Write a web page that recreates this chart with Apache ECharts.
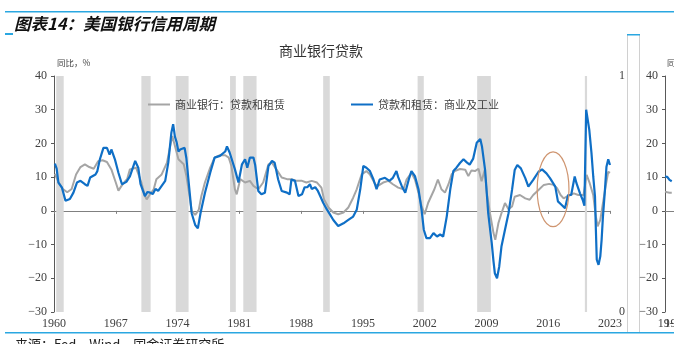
<!DOCTYPE html>
<html>
<head>
<meta charset="utf-8">
<script src="https://cdn.jsdelivr.net/npm/echarts@6/dist/echarts.min.js"></script>
<style>
  html, body { margin: 0; padding: 0; background: #fff; }
  #main { width: 674px; height: 344px; }
</style>
</head>
<body>
<div id="main"></div>
<script>
// Commercial bank loans and leases, YoY % ([year, value])
const bankLoans = [
  [1960.1, 11.0], [1960.5, 8.5], [1961.0, 6.5], [1961.5, 5.5], [1962.0, 6.5], [1962.5, 10.8],
  [1963.0, 13.0], [1963.5, 13.8], [1964.0, 13.0], [1964.5, 12.5], [1965.0, 14.7], [1965.5, 15.0],
  [1966.0, 14.5], [1966.5, 12.3], [1967.0, 8.4], [1967.3, 6.0], [1967.8, 8.0], [1968.3, 9.5],
  [1968.6, 12.3], [1969.3, 12.8], [1969.9, 8.4], [1970.3, 4.4], [1970.5, 3.4], [1970.9, 5.0],
  [1971.3, 6.4], [1971.6, 9.4], [1972.2, 10.8], [1972.8, 14.3], [1973.1, 18.3], [1973.4, 22.2],
  [1973.7, 19.3], [1974.1, 15.3], [1974.7, 13.8], [1975.0, 10.4], [1975.3, 5.4], [1975.6, 0.0],
  [1976.0, -1.2], [1976.4, 0.3], [1976.7, 4.4], [1977.1, 8.4], [1977.7, 12.8], [1978.2, 15.8],
  [1978.8, 16.5], [1979.4, 16.5], [1979.8, 15.8], [1980.1, 13.3], [1980.5, 6.4], [1980.7, 4.9],
  [1981.1, 9.4], [1981.65, 8.4], [1982.2, 8.9], [1982.6, 7.4], [1983.15, 6.4], [1983.7, 8.4],
  [1984.3, 13.8], [1984.7, 14.3], [1985.2, 12.3], [1985.8, 9.9], [1986.4, 9.4], [1986.9, 9.4],
  [1987.5, 8.9], [1988.1, 8.9], [1988.6, 8.4], [1989.2, 8.9], [1989.8, 8.4], [1990.3, 6.9],
  [1990.6, 3.4], [1991.1, 1.0], [1991.65, -0.5], [1992.2, -1.0], [1992.8, -0.5], [1993.35, 1.0],
  [1993.9, 3.9], [1994.3, 6.4], [1994.85, 10.8], [1995.4, 11.8], [1995.8, 10.8], [1996.4, 7.9],
  [1996.7, 7.4], [1997.3, 8.4], [1997.9, 8.9], [1998.4, 7.9], [1999.0, 6.9], [1999.6, 6.4],
  [1999.95, 9.3], [2000.5, 11.3], [2000.9, 9.3], [2001.3, 5.4], [2001.65, 1.4], [2002.0, -1.0],
  [2002.4, 2.4], [2002.75, 4.4], [2003.1, 6.4], [2003.5, 9.3], [2003.9, 6.4], [2004.3, 5.4],
  [2004.7, 7.9], [2005.05, 10.8], [2005.4, 11.8], [2006.0, 12.4], [2006.6, 12.2], [2006.95, 10.3],
  [2007.3, 12.0], [2007.7, 11.8], [2008.1, 12.5], [2008.45, 8.8], [2008.8, 12.1], [2009.05, 5.2],
  [2009.4, -0.7], [2009.8, -6.6], [2010.0, -8.6], [2010.35, -3.7], [2010.7, -0.7], [2011.1, 2.3],
  [2011.5, 0.5], [2011.9, 1.3], [2012.2, 4.2], [2012.8, 4.7], [2013.4, 3.7], [2013.9, 3.3],
  [2014.3, 4.7], [2014.9, 6.2], [2015.5, 7.7], [2016.1, 8.0], [2016.6, 7.7], [2017.0, 6.7],
  [2017.4, 4.7], [2017.75, 3.7], [2018.1, 4.2], [2018.5, 4.7], [2018.9, 5.2], [2019.4, 4.7],
  [2020.0, 4.7], [2020.35, 10.7], [2020.7, 8.2], [2021.1, 4.7], [2021.4, -1.7], [2021.6, -4.6],
  [2021.9, -2.7], [2022.2, 2.3], [2022.5, 7.2], [2022.8, 11.6], [2023.0, 11.3]
];

// Commercial & industrial loans, YoY % ([year, value])
const ciLoans = [
  [1960.1, 14.0], [1960.3, 12.5], [1960.5, 8.4], [1960.9, 6.9], [1961.3, 3.0], [1961.8, 3.5],
  [1962.2, 5.4], [1962.6, 8.4], [1963.0, 8.9], [1963.5, 7.9], [1963.8, 7.4], [1964.1, 9.9],
  [1964.7, 10.8], [1964.9, 11.7], [1965.2, 15.3], [1965.6, 18.7], [1966.0, 18.7], [1966.3, 16.7],
  [1966.5, 18.2], [1966.9, 15.3], [1967.3, 11.3], [1967.7, 7.9], [1968.2, 8.6], [1968.6, 10.2],
  [1969.2, 14.8], [1969.55, 12.8], [1969.8, 8.0], [1970.3, 4.4], [1970.6, 5.6], [1970.9, 5.4],
  [1971.2, 5.0], [1971.5, 6.5], [1971.8, 5.9], [1972.2, 7.4], [1972.6, 8.9], [1972.95, 14.3],
  [1973.3, 23.2], [1973.5, 25.7], [1973.7, 22.0], [1973.9, 20.3], [1974.1, 17.6], [1974.3, 18.2],
  [1974.5, 17.9], [1974.8, 18.7], [1975.0, 15.6], [1975.3, 7.4], [1975.6, -0.7], [1976.0, -4.2],
  [1976.3, -5.2], [1976.6, -0.7], [1977.1, 5.3], [1977.7, 11.3], [1978.2, 15.8], [1978.8, 16.3],
  [1979.4, 17.6], [1979.6, 19.1], [1979.9, 17.3], [1980.5, 12.3], [1980.9, 8.4], [1981.3, 13.8],
  [1981.65, 15.3], [1981.9, 12.8], [1982.2, 15.8], [1982.6, 15.8], [1982.8, 13.5], [1983.15, 5.9],
  [1983.5, 4.9], [1983.9, 5.4], [1984.3, 13.3], [1984.7, 14.8], [1985.0, 14.3], [1985.4, 9.3],
  [1985.8, 5.9], [1986.4, 5.4], [1986.7, 4.9], [1986.9, 9.3], [1987.3, 8.9], [1987.7, 4.4],
  [1988.1, 4.9], [1988.4, 7.0], [1988.7, 7.0], [1989.0, 7.9], [1989.2, 6.5], [1989.6, 7.0],
  [1989.9, 5.9], [1990.2, 4.2], [1990.5, 2.4], [1990.9, 0.5], [1991.3, -1.2], [1991.65, -2.7],
  [1992.2, -4.5], [1992.8, -3.7], [1993.35, -2.7], [1993.9, -1.7], [1994.3, 0.3], [1994.7, 6.4],
  [1995.05, 13.3], [1995.4, 12.8], [1995.8, 11.8], [1996.2, 9.3], [1996.55, 6.4], [1996.9, 9.3],
  [1997.5, 9.8], [1998.0, 8.9], [1998.4, 9.8], [1998.8, 11.8], [1999.0, 10.0], [1999.4, 7.4],
  [1999.8, 5.4], [2000.2, 9.3], [2000.5, 11.8], [2000.9, 10.3], [2001.3, 6.4], [2001.65, 0.3],
  [2001.9, -5.6], [2002.2, -8.1], [2002.6, -8.1], [2003.0, -6.6], [2003.4, -7.6], [2003.75, -7.0],
  [2004.1, -7.6], [2004.5, -1.7], [2004.9, 6.4], [2005.25, 11.8], [2005.6, 12.8], [2006.0, 14.2],
  [2006.4, 15.3], [2006.8, 14.3], [2007.1, 13.7], [2007.5, 15.5], [2007.9, 20.2], [2008.3, 21.3],
  [2008.5, 19.0], [2008.85, 12.1], [2009.2, -0.7], [2009.6, -9.6], [2009.8, -15.0], [2009.95, -18.5],
  [2010.2, -20.0], [2010.45, -16.5], [2010.7, -10.6], [2011.1, -5.6], [2011.5, -0.7], [2011.9, 6.2],
  [2012.2, 12.1], [2012.5, 13.6], [2012.9, 12.6], [2013.4, 9.7], [2013.75, 7.2], [2013.9, 6.7],
  [2014.3, 9.2], [2014.9, 11.6], [2015.3, 12.3], [2015.8, 11.1], [2016.2, 9.7], [2016.8, 7.2],
  [2017.1, 2.8], [2017.5, 1.8], [2017.9, 0.8], [2018.25, 4.7], [2018.6, 4.7], [2019.0, 10.2],
  [2019.2, 8.2], [2019.6, 5.2], [2019.9, 3.3], [2020.1, 1.5], [2020.3, 30.0], [2020.65, 24.1],
  [2020.9, 17.2], [2021.1, 10.2], [2021.3, 4.2], [2021.4, -5.6], [2021.5, -14.5], [2021.7, -16.0],
  [2021.9, -13.5], [2022.05, -8.6], [2022.2, -1.7], [2022.4, 5.2], [2022.6, 13.1], [2022.8, 15.3],
  [2023.0, 13.6]
];

// US recessions (start / end, decimal years)
const recessionStart = [1960.25, 1969.9, 1973.8, 1979.95, 1981.45, 1990.5, 2001.2, 2007.95, 2020.15];
const recessionEnd   = [1961.1, 1970.95, 1975.25, 1980.6, 1982.95, 1991.25, 2001.9, 2009.5, 2020.4];

// Right-hand panel (monthly, from 2019-01)
const insetMonths = ['19-01', '19-02', '19-03', '19-04', '19-05', '19-06', '19-07', '19-08', '19-09', '19-10', '19-11', '19-12'];
const insetCI = [10.2, 10.1, 9.2, 8.8];
const insetBank = [5.7, 5.5, 5.4, 5.4];

const yMin = -30, yMax = 40, yStep = 10;
const xStart = 1960, xEnd = 2023, xStep = 7;

const SERIF = '"Liberation Serif", "Times New Roman", serif';
const CJK = '"Noto Sans CJK SC", sans-serif';
const minusFmt = v => String(v).replace('-', '\u2212');
const yearFmt = v => String(Math.round(v));

const chart = echarts.init(document.getElementById('main'), null, { renderer: 'canvas' });

const valueAxisStyle = {
  axisLine: { show: true, lineStyle: { color: '#595959', width: 1 } },
  axisTick: { show: true, inside: false, length: 3, lineStyle: { color: '#595959' } },
  splitLine: { show: false },
  axisLabel: { fontFamily: SERIF, fontSize: 12, color: '#404040', margin: 7, formatter: minusFmt }
};

const option = {
  animation: false,
  backgroundColor: '#ffffff',
  legend: {
    left: 143, top: 94,
    itemWidth: 22, itemHeight: 2, itemGap: 66,
    icon: 'rect',
    textStyle: { fontFamily: CJK, fontSize: 11, color: '#404040' },
    data: ['商业银行：贷款和租赁', '贷款和租赁：商业及工业']
  },
  grid: [
    { left: 54, right: 64, top: 76, bottom: 32 },
    { left: 665, top: 76, width: 99, height: 236 }
  ],
  xAxis: [
    {
      gridIndex: 0, type: 'value', min: xStart, max: xEnd, interval: xStep,
      axisLine: { show: false, onZero: false }, axisTick: { show: false }, splitLine: { show: false },
      axisLabel: { fontFamily: SERIF, fontSize: 12, color: '#404040', margin: 6, formatter: yearFmt }
    },
    {
      gridIndex: 0, type: 'value', min: xStart, max: xEnd, interval: xStep, position: 'bottom',
      axisLine: { show: true, onZero: true, onZeroAxisIndex: 0, lineStyle: { color: '#808080', width: 1 } },
      axisTick: { show: true, length: 3, lineStyle: { color: '#808080' } },
      axisLabel: { show: false }, splitLine: { show: false }
    },
    {
      gridIndex: 1, type: 'category', data: insetMonths, boundaryGap: false,
      axisLine: { show: false, onZero: false }, axisTick: { show: false },
      axisLabel: { fontFamily: SERIF, fontSize: 12, color: '#404040', margin: 6, interval: 2 }
    },
    {
      gridIndex: 1, type: 'category', data: insetMonths, boundaryGap: false, position: 'bottom',
      axisLine: { show: true, onZero: true, onZeroAxisIndex: 2, lineStyle: { color: '#808080', width: 1 } },
      axisTick: { show: false }, axisLabel: { show: false }
    }
  ],
  yAxis: [
    Object.assign({ gridIndex: 0, type: 'value', min: yMin, max: yMax, interval: yStep, position: 'left' }, valueAxisStyle),
    {
      gridIndex: 0, type: 'value', min: 0, max: 1, interval: 1, position: 'right',
      axisLine: { show: false }, axisTick: { show: false }, splitLine: { show: false },
      axisLabel: { fontFamily: SERIF, fontSize: 12, color: '#404040', margin: 9 }
    },
    Object.assign({ gridIndex: 1, type: 'value', min: yMin, max: yMax, interval: yStep, position: 'left' }, valueAxisStyle)
  ],
  series: [
    {
      name: '衰退期', type: 'custom', xAxisIndex: 0, yAxisIndex: 1, silent: true, z: 1,
      data: recessionStart.map((s, i) => [s, recessionEnd[i], 1]),
      encode: { x: [0, 1], y: 2 },
      renderItem: function (params, api) {
        const topLeft = api.coord([api.value(0), 1]);
        const bottomRight = api.coord([api.value(1), 0]);
        return {
          type: 'rect',
          shape: { x: topLeft[0], y: topLeft[1], width: bottomRight[0] - topLeft[0], height: bottomRight[1] - topLeft[1] },
          style: { fill: '#d9d9d9' }
        };
      }
    },
    {
      name: '商业银行：贷款和租赁', type: 'line', xAxisIndex: 0, yAxisIndex: 0, z: 3,
      data: bankLoans, showSymbol: false, symbol: 'none', smooth: false,
      color: '#a5a5a5', lineStyle: { color: '#a5a5a5', width: 2 }
    },
    {
      name: '贷款和租赁：商业及工业', type: 'line', xAxisIndex: 0, yAxisIndex: 0, z: 4,
      data: ciLoans, showSymbol: false, symbol: 'none', smooth: false,
      color: '#0f6fc6', lineStyle: { color: '#0f6fc6', width: 2.2 }
    },
    {
      name: 'inset-bank', type: 'line', xAxisIndex: 2, yAxisIndex: 2, z: 3,
      data: insetBank, showSymbol: false, symbol: 'none',
      lineStyle: { color: '#a5a5a5', width: 2 }
    },
    {
      name: 'inset-ci', type: 'line', xAxisIndex: 2, yAxisIndex: 2, z: 4,
      data: insetCI, showSymbol: false, symbol: 'none',
      lineStyle: { color: '#0f6fc6', width: 2.2 }
    }
  ],
  graphic: {
    elements: [
      { id: 'topRule', type: 'rect', shape: { x: 5, y: 11, width: 669, height: 1.5 }, style: { fill: '#2aa7e1' } },
      { id: 'titleMark', type: 'rect', shape: { x: 5, y: 33, width: 8, height: 2 }, style: { fill: '#2aa7e1' } },
      { id: 'bottomRule', type: 'rect', shape: { x: 5, y: 332, width: 669, height: 1.5 }, style: { fill: '#2aa7e1' } },
      { id: 'boxL', type: 'rect', shape: { x: 627, y: 34, width: 1, height: 298 }, style: { fill: '#d0d0d0' } },
      { id: 'boxR', type: 'rect', shape: { x: 639, y: 34, width: 1, height: 298 }, style: { fill: '#d0d0d0' } },
      { id: 'boxTop', type: 'rect', shape: { x: 627, y: 34, width: 13, height: 1.5 }, style: { fill: '#2aa7e1' } },
      {
        id: 'mainTitle', type: 'text', x: 14, y: 24,
        style: { text: '图表14：美国银行信用周期', fontFamily: CJK, fontSize: 16.5, fontWeight: 'bold', fontStyle: 'italic', fill: '#111', textVerticalAlign: 'middle' }
      },
      {
        id: 'chartTitle', type: 'text', x: 321, y: 51,
        style: { text: '商业银行贷款', fontFamily: CJK, fontSize: 14, fill: '#333', textAlign: 'center', textVerticalAlign: 'middle' }
      },
      {
        id: 'unitL', type: 'text', x: 57, y: 63,
        style: { text: '同比，%', fontFamily: CJK, fontSize: 8.5, fill: '#404040', textVerticalAlign: 'middle' }
      },
      {
        id: 'unitR', type: 'text', x: 667, y: 63,
        style: { text: '同比，%', fontFamily: CJK, fontSize: 8.5, fill: '#404040', textVerticalAlign: 'middle' }
      },
      {
        id: 'source', type: 'text', x: 15, y: 338,
        style: { text: '来源：Fed、Wind、国金证券研究所', fontFamily: CJK, fontSize: 13, fill: '#222', textVerticalAlign: 'top' }
      }
    ]
  }
};

chart.setOption(option);

// Highlight ring around the 2016–2017 slowdown, placed in data coordinates
const ringCenter = chart.convertToPixel({ xAxisIndex: 0, yAxisIndex: 0 }, [2016.55, 6.4]);
const ringEdge = chart.convertToPixel({ xAxisIndex: 0, yAxisIndex: 0 }, [2016.55 + 1.8, 6.4 + 11.1]);
chart.setOption({
  graphic: {
    elements: [{
      id: 'ring', type: 'ellipse', z: 10,
      shape: { cx: ringCenter[0], cy: ringCenter[1], rx: Math.abs(ringEdge[0] - ringCenter[0]), ry: Math.abs(ringEdge[1] - ringCenter[1]) },
      style: { fill: 'none', stroke: '#cf9570', lineWidth: 1.2 }
    }]
  }
});
</script>
</body>
</html>
